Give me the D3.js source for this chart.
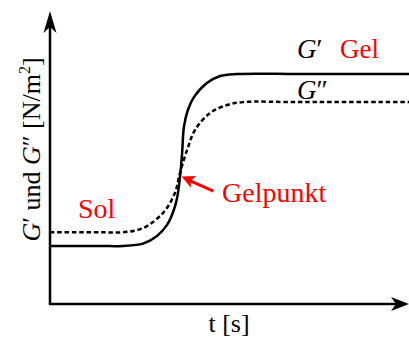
<!DOCTYPE html>
<html>
<head>
<meta charset="utf-8">
<script src="https://cdn.jsdelivr.net/npm/d3@7"></script>
<style>html, body { margin: 0; background: #fff; }</style>
</head>
<body>
<div id="chart"></div>
<script>
// Schema: Sol-Gel-Übergang, G' (durchgezogen) und G'' (gestrichelt) über t
// Werte in willkürlichen Einheiten, t: 0..100, G: 0..100

const tStorage = [0, 13.9, 20.3, 25.9, 29.8, 32.6, 34.3, 35.4, 36.2, 36.8, 37.3, 38.4, 40.1, 43.7, 47.4, 52.1, 69.6, 100];
const gStorage = [19.8, 19.8, 19.8, 20.6, 23.2, 27, 31.4, 36.2, 43.3, 51.5, 60.4, 66.2, 70.6, 75.4, 77.8, 78.5, 78.5, 78.5];

const tLoss = [0, 13.9, 20.3, 25.9, 31.5, 34.8, 36.2, 38.2, 40.4, 44.6, 49.3, 53.8, 70, 100];
const gLoss = [24.5, 24.5, 24.5, 25.9, 31.1, 37.9, 44.7, 52.6, 59.4, 65.2, 67.9, 68.9, 68.9, 68.9];

const gelPoint = [36.4, 43.5];   // Schnittpunkt G' = G''
const arrowTail = [45.5, 38.5];  // Ende des roten Pfeils

const xLabel = "t [s]";
const phaseLabels = ["Sol", "Gel", "Gelpunkt"];

const W = 409, H = 338;
const svg = d3.select("#chart").append("svg").attr("width", W).attr("height", H);

const x = d3.scaleLinear().domain([0, 100]).range([50, 409]);
const y = d3.scaleLinear().domain([0, 100]).range([304, 11]);

const line = d3.line().x(d => x(d[0])).y(d => y(d[1])).curve(d3.curveCatmullRom.alpha(0.5));

// Achsen (ohne Ticks, nur Pfeile)
svg.append("line")
  .attr("x1", x(0)).attr("y1", y(0)).attr("x2", x(0)).attr("y2", y(100) + 12)
  .attr("stroke", "#000").attr("stroke-width", 2.5);
svg.append("line")
  .attr("x1", x(0) - 1.2).attr("y1", y(0)).attr("x2", x(100) - 12).attr("y2", y(0))
  .attr("stroke", "#000").attr("stroke-width", 2.5);

function arrowHead(tx, ty, angle, len, half, notch, color) {
  const p = d3.path();
  p.moveTo(0, 0);
  p.lineTo(-len, -half);
  p.lineTo(-len + notch, 0);
  p.lineTo(-len, half);
  p.closePath();
  svg.append("path").attr("d", p.toString()).attr("fill", color)
    .attr("transform", `translate(${tx},${ty}) rotate(${angle})`);
}
arrowHead(x(0), y(100), -90, 22, 6.5, 6, "#000");
arrowHead(x(100), y(0), 0, 18, 7, 5, "#000");

// Kurven
svg.append("path")
  .datum(d3.zip(tLoss, gLoss))
  .attr("d", line)
  .attr("fill", "none").attr("stroke", "#000").attr("stroke-width", 2.5)
  .attr("stroke-dasharray", "4.5,2.8");

svg.append("path")
  .datum(d3.zip(tStorage, gStorage))
  .attr("d", line)
  .attr("fill", "none").attr("stroke", "#000").attr("stroke-width", 2.5);

// Gelpunkt-Pfeil
const gx = x(gelPoint[0]), gy = y(gelPoint[1]);
const ax = x(arrowTail[0]), ay = y(arrowTail[1]);
const ang = Math.atan2(gy - ay, gx - ax) * 180 / Math.PI;
const headLen = 13;
const rad = ang * Math.PI / 180;
svg.append("line")
  .attr("x1", ax).attr("y1", ay)
  .attr("x2", gx - Math.cos(rad) * (headLen - 3)).attr("y2", gy - Math.sin(rad) * (headLen - 3))
  .attr("stroke", "#f00").attr("stroke-width", 3);
arrowHead(gx + 1, gy, ang, headLen, 6.5, 3, "#f00");

// Beschriftungen (alle auf einmal per join)
const labels = [
  { html: xLabel, px: 229, py: 332, size: 26, fill: "#000", anchor: "middle" },
  { html: '<tspan font-style="italic">G</tspan>′', px: 297, py: 58, size: 27, fill: "#000", anchor: "start" },
  { html: '<tspan font-style="italic">G</tspan>″', px: 297, py: 99, size: 27, fill: "#000", anchor: "start" },
  { html: phaseLabels[0], px: 78, py: 218, size: 28, fill: "#f00", anchor: "start" },
  { html: phaseLabels[1], px: 340, py: 58, size: 27, fill: "#f00", anchor: "start" },
  { html: phaseLabels[2], px: 222, py: 202, size: 28, fill: "#f00", anchor: "start" },
  { html: '<tspan font-style="italic">G</tspan>′ und <tspan font-style="italic">G</tspan>″ [N/m<tspan font-size="16" dy="-10">2</tspan><tspan dy="10">]</tspan>',
    px: 0, py: 0, size: 26, fill: "#000", anchor: "middle",
    transform: `translate(40,${(y(0) + y(100)) / 2 - 8}) rotate(-90)` }
];

svg.selectAll("text").data(labels).join("text")
  .attr("x", d => d.px).attr("y", d => d.py)
  .attr("font-size", d => d.size)
  .attr("fill", d => d.fill)
  .attr("text-anchor", d => d.anchor)
  .attr("transform", d => d.transform || null)
  .style("font-family", "'Liberation Serif'")
  .html(d => d.html);
</script>
</body>
</html>
